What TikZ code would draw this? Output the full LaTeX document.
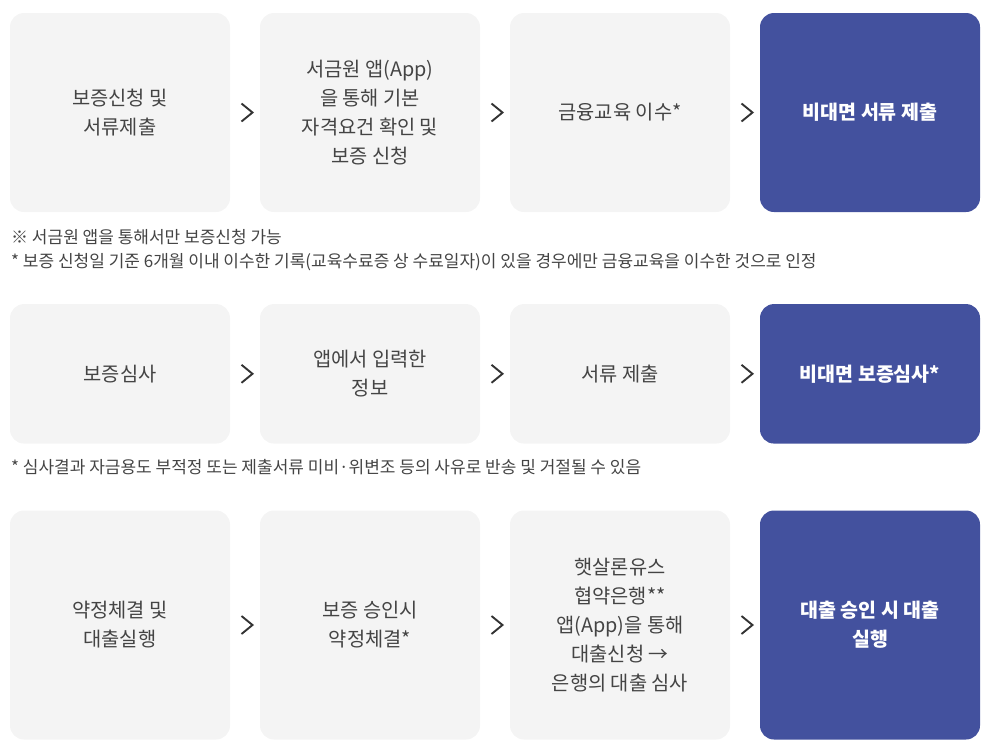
\documentclass[tikz,border=0pt]{standalone}
\usepackage{fontspec}
\setmainfont{Noto Sans CJK KR}
\definecolor{boxgrey}{HTML}{F4F4F4}
\definecolor{boxblue}{HTML}{43519E}
\definecolor{txt}{HTML}{444444}
\definecolor{chev}{HTML}{333333}
\tikzset{
  stepbox/.style={rounded corners=14pt, minimum width=220pt, inner sep=0pt, fill=boxgrey, text=txt, align=center, font=\fontsize{19.8pt}{29pt}\selectfont},
  bluebox/.style={stepbox, fill=boxblue, text=white, font=\fontsize{19.5pt}{29pt}\selectfont\bfseries},
  chevron/.style={draw=chev, line width=1.9pt},
  note/.style={anchor=west, inner sep=0pt, text=txt, font=\fontsize{17pt}{20pt}\selectfont}
}
\newcommand{\chevat}[1]{\draw[chevron] ([xshift=-5.5pt,yshift=9pt]#1) -- ([xshift=5.5pt]#1) -- ([xshift=-5.5pt,yshift=-9pt]#1);}
\begin{document}
\begin{tikzpicture}[x=1pt,y=-1pt]
\useasboundingbox (0,0) rectangle (991,748);
% row 1
\node[stepbox, minimum height=199pt] (a1) at (120,112.5) {보증신청 및\\서류제출};
\node[stepbox, minimum height=199pt] (a2) at (370,112.5) {서금원 앱(App)\\을 통해 기본\\자격요건 확인 및\\보증 신청};
\node[stepbox, minimum height=199pt] (a3) at (620,112.5) {금융교육 이수*};
\node[bluebox, minimum height=199pt] (a4) at (870,112.5) {비대면 서류 제출};
\coordinate (c1) at (247,112.5);
\coordinate (c2) at (497,112.5);
\coordinate (c3) at (747,112.5);
\chevat{c1}\chevat{c2}\chevat{c3}
\node[note] (n1) at (11,237) {※ 서금원 앱을 통해서만 보증신청 가능};
\node[note] (n2) at (11,262) {* 보증 신청일 기준 6개월 이내 이수한 기록(교육수료증 상 수료일자)이 있을 경우에만 금융교육을 이수한 것으로 인정};
% row 2
\node[stepbox, minimum height=139.5pt] (b1) at (120,373.8) {보증심사};
\node[stepbox, minimum height=139.5pt] (b2) at (370,373.8) {앱에서 입력한\\정보};
\node[stepbox, minimum height=139.5pt] (b3) at (620,373.8) {서류 제출};
\node[bluebox, minimum height=139.5pt] (b4) at (870,373.8) {비대면 보증심사*};
\coordinate (d1) at (247,373.8);
\coordinate (d2) at (497,373.8);
\coordinate (d3) at (747,373.8);
\chevat{d1}\chevat{d2}\chevat{d3}
\node[note] (n3) at (11,467) {* 심사결과 자금용도 부적정 또는 제출서류 미비·위변조 등의 사유로 반송 및 거절될 수 있음};
% row 3
\node[stepbox, minimum height=229pt] (e1) at (120,625) {약정체결 및\\대출실행};
\node[stepbox, minimum height=229pt] (e2) at (370,625) {보증 승인시\\약정체결*};
\node[stepbox, minimum height=229pt] (e3) at (620,625) {햇살론유스\\협약은행**\\앱(App)을 통해\\대출신청 →\\은행의 대출 심사};
\node[bluebox, minimum height=229pt] (e4) at (870,625) {대출 승인 시 대출\\실행};
\coordinate (f1) at (247,625);
\coordinate (f2) at (497,625);
\coordinate (f3) at (747,625);
\chevat{f1}\chevat{f2}\chevat{f3}
\end{tikzpicture}
\end{document}
